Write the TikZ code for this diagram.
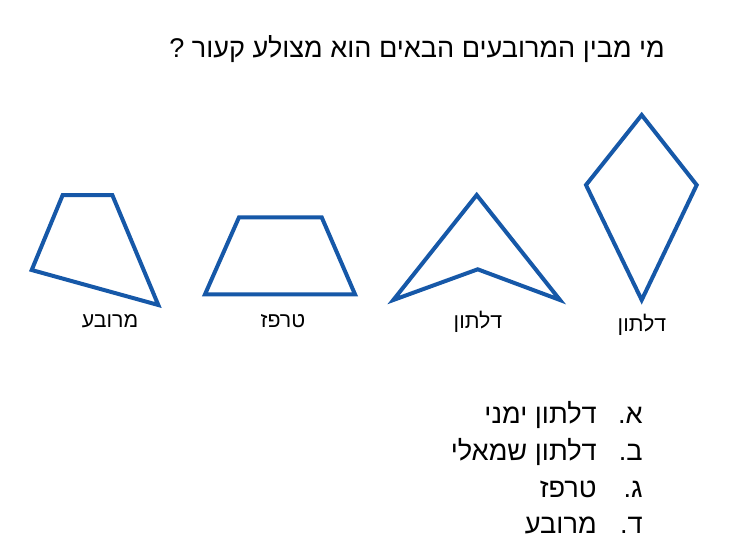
\documentclass[tikz,border=0pt]{standalone}
\usepackage{fontspec}
\setmainfont{Liberation Sans}
\newfontfamily\hebfont[Script=Hebrew]{Liberation Sans}
\TeXXeTstate=1
\usetikzlibrary{positioning}
\definecolor{shapeblue}{RGB}{22,88,168}
\tikzstyle{polygon} = [draw=shapeblue, line width=3pt, line join=miter]
\tikzstyle{question} = [font=\hebfont\fontsize{20.3}{24}\selectfont, inner sep=0pt, anchor=base east]
\tikzstyle{shapename} = [font=\hebfont\fontsize{16}{19}\selectfont, inner sep=0pt, anchor=base]
\tikzstyle{answer} = [font=\hebfont\fontsize{20.4}{24}\selectfont, inner sep=0pt, anchor=base east]

\begin{document}
\begin{tikzpicture}[x=0.75pt, y=-0.75pt]
\useasboundingbox (0,0) rectangle (743,557);
\node (title) [question] at (665,57) {\beginR מי מבין המרובעים הבאים הוא מצולע קעור ?\endR};
% the four shapes
\draw [polygon] (62.7,195) -- (112.3,195) -- (158.3,305) -- (31.7,270) -- cycle;
\draw [polygon] (239,217.3) -- (321.7,217.3) -- (355,294.3) -- (205,294.3) -- cycle;
\draw [polygon] (476.7,195) -- (560,300) -- (477.7,269.3) -- (393.3,300) -- cycle;
\draw [polygon] (641.7,115) -- (696.7,185) -- (641.7,300) -- (586,185) -- cycle;
\node (lblquad) [shapename] at (110,327) {\beginR מרובע\endR};
\node (lbltrap) [shapename] at (283,327) {\beginR טרפז\endR};
\node (lblarrow) [shapename] at (478,328) {\beginR דלתון\endR};
\node (lblkite) [shapename] at (642,331) {\beginR דלתון\endR};
% answers
\node (numA) [answer] at (643,423) {\beginR א.\endR};
\node (numB) [answer] at (643,460) {\beginR ב.\endR};
\node (numC) [answer] at (643,497) {\beginR ג.\endR};
\node (numD) [answer] at (643,533) {\beginR ד.\endR};
\node (ansA) [answer] at (597,423) {\beginR דלתון ימני\endR};
\node (ansB) [answer] at (597,460) {\beginR דלתון שמאלי\endR};
\node (ansC) [answer] at (597,497) {\beginR טרפז\endR};
\node (ansD) [answer] at (597,533) {\beginR מרובע\endR};
\end{tikzpicture}
\end{document}
